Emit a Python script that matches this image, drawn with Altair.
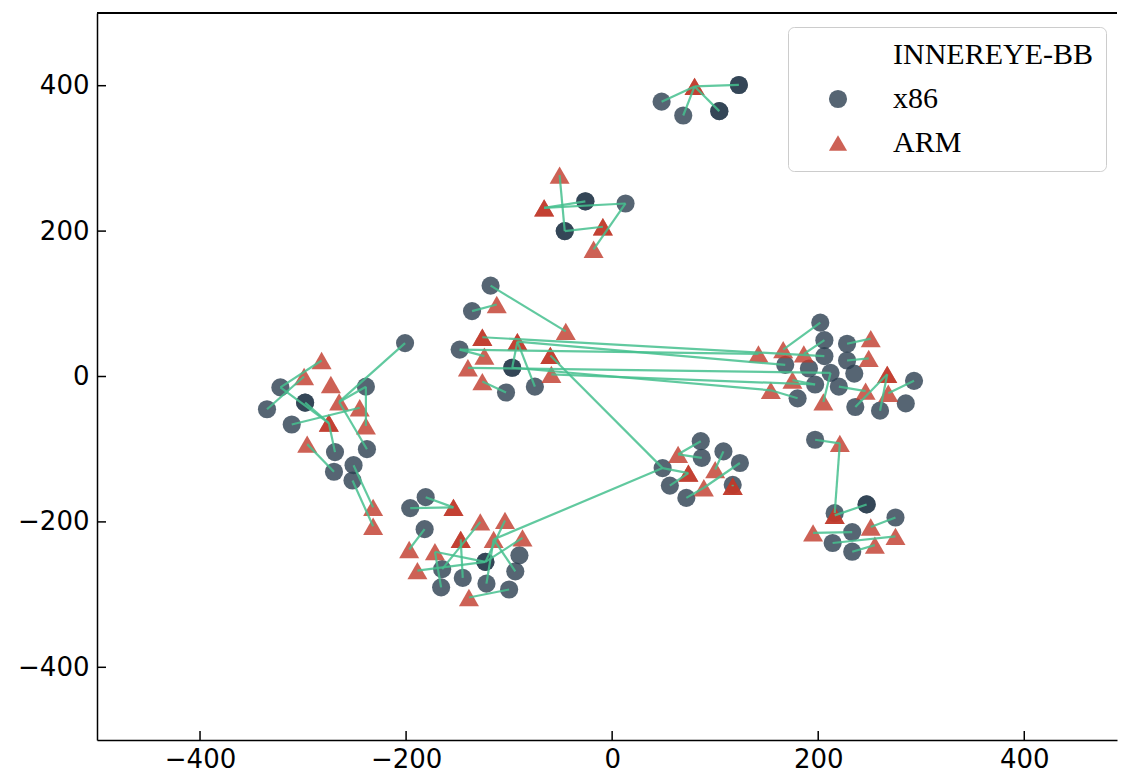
import altair as alt
import pandas as pd

# x86 basic-block embeddings (duplicates = overlapping blocks)
x86_x = [-201, -322, -239, -298, -335, -311, -269, -238, -251, -270, -252,
         -181, -196, -182, -123, -90, -165, -145, -94, -166, -122, -100,
         -118, -136, -148, -97, -103, -75,
         -26, 13, -46,
         123, 48, 69, 104,
         86, 87, 108, 124, 49, 56, 72, 117,
         202, 206, 228, 206, 168, 228, 191, 212, 235, 197, 220, 293, 180, 236, 260, 285,
         197, 247, 216, 275, 233, 214, 233,
         -298, -123, -97, -26, -46, 123, 104, 247]
x86_y = [46, -15, -14, -36, -45, -66, -104, -100, -122, -131, -143,
         -166, -181, -210, -255, -246, -265, -277, -268, -290, -285, -293,
         125, 90, 37, 12, -22, -14,
         241, 238, 200,
         401, 378, 359, 365,
         -89, -112, -103, -119, -126, -150, -167, -149,
         74, 50, 45, 28, 16, 22, 11, 5, 4, -11, -14, -6, -30, -42, -47, -37,
         -87, -176, -188, -194, -214, -229, -241,
         -36, -255, 12, 241, 200, 401, 365, -176]

# ARM basic-block embeddings
arm_x = [-282, -299, -273, -265, -245, -275, -239, -296, -232, -232,
         -154, -128, -104, -147, -115, -87, -197, -172, -189, -139,
         -112, -45, -126, -92, -124, -60, -140, -59, -126,
         -51, -66, -9, -18,
         80,
         64, 74, 100, 89, 117,
         251, 142, 166, 186, 249, 267, 175, 246, 268, 154, 205,
         221, 216, 195, 251, 275, 255,
         -275, -154, -147, -126, -92, -60, -66, -9, 80, 74, 117, 267, 216]
arm_y = [22, 0, -11, -35, -43, -64, -68, -93, -180, -206,
         -180, -200, -198, -224, -224, -222, -238, -241, -267, -304,
         99, 62, 54, 48, 28, 29, 12, 3, -7,
         277, 232, 206, 175,
         399,
         -107, -133, -128, -153, -151,
         52, 31, 37, 31, 25, 3, -5, -20, -23, -19, -35,
         -92, -191, -215, -207, -220, -232,
         -64, -180, -224, 54, 48, 29, 232, 206, 399, -133, -151, 3, -191]

# matched pairs: index into x86 list, index into ARM list
link_x86 = [0, 4, 1, 1, 5, 2, 2, 3, 6, 7, 9, 8, 10,
            11, 12, 13, 14, 14, 14, 14, 17, 16, 18, 20, 21, 19,
            39, 39,
            22, 23, 24, 26, 25, 27,
            46, 24, 47, 50, 25, 52,
            28, 29, 30, 30, 29,
            31, 32, 33, 34,
            35, 36, 37, 38, 39, 40, 41, 42,
            43, 44, 45, 48, 56, 57, 54, 52, 55, 53, 50,
            59, 61, 60, 63, 64, 65, 62]
link_arm = [3, 1, 0, 5, 4, 3, 6, 5, 5, 3, 7, 8, 9,
            10, 10, 16, 17, 18, 15, 12, 13, 11, 14, 14, 19, 17,
            14, 25,
            21, 20, 24, 28, 23, 23,
            22, 40, 23, 26, 48, 27,
            30, 30, 29, 31, 32,
            33, 33, 33, 33,
            34, 34, 36, 37, 35, 35, 37, 38,
            41, 42, 39, 43, 44, 44, 47, 45, 48, 46, 49,
            50, 50, 51, 52, 54, 55, 53]

legend_entries = ["INNEREYE-BB", "x86", "ARM"]
tick_values = [-400, -200, 0, 200, 400]

W, H = 1020, 727

points = pd.concat([
    pd.DataFrame({"x": x86_x, "y": x86_y, "series": "x86"}),
    pd.DataFrame({"x": arm_x, "y": arm_y, "series": "ARM"}),
], ignore_index=True)

links = pd.DataFrame({
    "x": [x86_x[i] for i in link_x86],
    "y": [x86_y[i] for i in link_x86],
    "x2": [arm_x[j] for j in link_arm],
    "y2": [arm_y[j] for j in link_arm],
})
ticks = pd.DataFrame({"v": tick_values})

xscale = alt.Scale(domain=[-500, 490], nice=False, zero=False)
yscale = alt.Scale(domain=[-500, 500], nice=False, zero=False)

xaxis = alt.Axis(values=tick_values, title=None, ticks=False, grid=False,
                 labelFont="DejaVu Sans", labelFontSize=26, labelColor="black",
                 labelPadding=6, domainColor="black", domainWidth=1.5, labelFlush=False)
yaxis = alt.Axis(values=tick_values, title=None, ticks=False, grid=False,
                 labelFont="DejaVu Sans", labelFontSize=26, labelColor="black",
                 labelPadding=8, domainColor="black", domainWidth=1.5)

legend = alt.Legend(title=None, orient="none", legendX=691, legendY=14,
                    labelFont="Liberation Serif", labelFontSize=30, labelColor="black",
                    labelLimit=0,
                    symbolSize=330, symbolOpacity=0.8, symbolStrokeWidth=0,
                    padding=13, rowPadding=14, symbolOffset=22, labelOffset=40,
                    strokeColor="#cccccc", fillColor="white", cornerRadius=6)

pts = alt.Chart(points).mark_point(filled=True, opacity=0.8, strokeWidth=0).encode(
    x=alt.X("x:Q", scale=xscale, axis=xaxis),
    y=alt.Y("y:Q", scale=yscale, axis=yaxis),
    color=alt.Color("series:N", scale=alt.Scale(domain=legend_entries,
                    range=["transparent", "#2c3e50", "#c0392b"]), legend=legend),
    shape=alt.Shape("series:N", scale=alt.Scale(domain=legend_entries,
                    range=["circle", "circle", "triangle-up"]), legend=legend),
    size=alt.Size("series:N", scale=alt.Scale(domain=["x86", "ARM"], range=[330, 400]),
                  legend=None),
)

lines = alt.Chart(links).mark_rule(color="#45c08e", strokeWidth=2.2, opacity=0.85).encode(
    x=alt.X("x:Q", scale=xscale, axis=xaxis),
    y=alt.Y("y:Q", scale=yscale, axis=yaxis),
    x2="x2:Q",
    y2="y2:Q",
)

xticks = alt.Chart(ticks).mark_rule(color="black", strokeWidth=1.5).encode(
    x=alt.X("v:Q", scale=xscale, axis=xaxis),
    y=alt.value(H),
    y2=alt.value(H - 9),
)
yticks = alt.Chart(ticks).mark_rule(color="black", strokeWidth=1.5).encode(
    y=alt.Y("v:Q", scale=yscale, axis=yaxis),
    x=alt.value(0),
    x2=alt.value(9),
)
top_border = alt.Chart(ticks).mark_rule(color="black", strokeWidth=1.5).encode(
    x=alt.value(0), x2=alt.value(W), y=alt.value(0)
)

chart = alt.layer(pts, lines, xticks, yticks, top_border).properties(
    width=W, height=H,
    padding={"left": 89, "top": 5, "right": 1, "bottom": 32},
    autosize=alt.AutoSizeParams(type="none"),
).configure_view(stroke=None)

chart.save("out.html", embed_options={"renderer": "svg", "actions": False})
